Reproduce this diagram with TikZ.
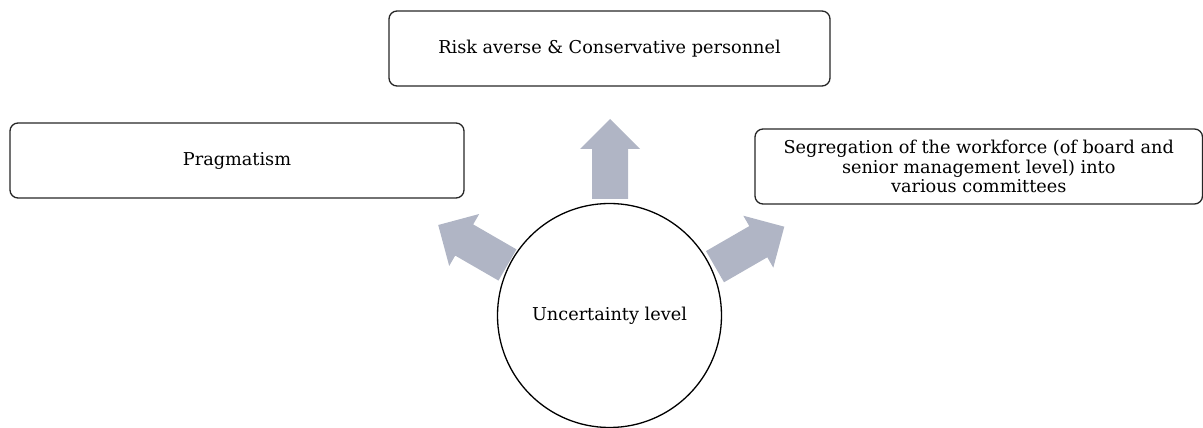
\documentclass[tikz,border=0pt]{standalone}
\usepackage{fontspec}
\setmainfont{DejaVu Serif}
\usepackage{tikz}
\usetikzlibrary{calc}
\definecolor{spokegray}{RGB}{176,181,197}
\tikzset{>=latex}
\tikzset{
  labelbox/.style={draw=black!85,line width=1.3pt,rounded corners=8pt,align=center,inner sep=0pt,minimum height=75pt,font=\fontsize{17.7}{19.8}\selectfont},
  pics/spoke/.style={code={
    \fill[spokegray] (0,-18) -- (50,-18) -- (50,-30) -- (80,0) -- (50,30) -- (50,18) -- (0,18) -- cycle;
  }}
}

\begin{document}
\begin{tikzpicture}[x=1pt,y=1pt]
  \useasboundingbox (0,0) rectangle (1203,428);
  % Hub
  \node[circle,draw,line width=1.3pt,minimum size=224pt,inner sep=0pt,font=\fontsize{17.7}{19.8}\selectfont] (hub) at (609.5,112.5) {Uncertainty level};
  % Boxes
  \node[labelbox,minimum width=441pt] (risk) at (609.5,379.5) {Risk averse \& Conservative personnel};
  \node[labelbox,minimum width=454pt] (prag) at (237,267.5) {Pragmatism};
  \node[labelbox,minimum width=447.5pt] (segr) at (978.75,261.5) {Segregation of the workforce (of board and\\senior management level) into\\various committees};
  % Arrows
  \pic[rotate=90] at ($(hub.center)+(0.5,116.5)$) {spoke};
  \pic[rotate=30] at ($(hub.center)+(105.5,48.8)$) {spoke};
  \pic[rotate=150] at ($(hub.center)+(-102,50.5)$) {spoke};
\end{tikzpicture}
\end{document}
